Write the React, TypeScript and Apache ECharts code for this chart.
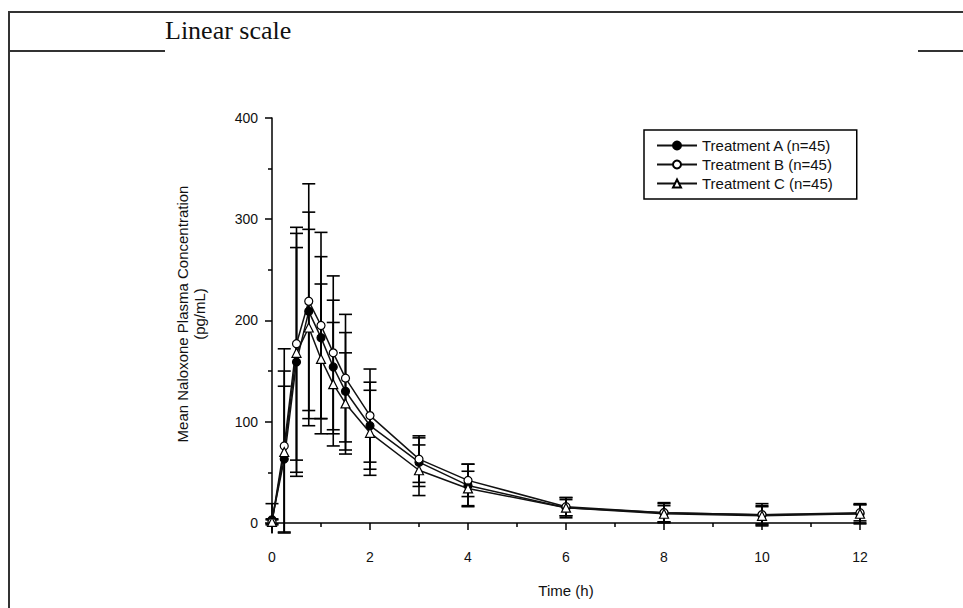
import React, { useEffect, useRef } from "react";
import * as echarts from "echarts";

const TIMES = [0, 0.25, 0.5, 0.75, 1, 1.25, 1.5, 2, 3, 4, 6, 8, 10, 12];
const SERIES_NAMES = ["Treatment A (n=45)", "Treatment B (n=45)", "Treatment C (n=45)"];
const A_MEAN = [3, 63, 159, 209, 183, 154, 130, 96, 60, 37, 15, 10, 8, 9];
const A_SD = [16, 72, 113, 98, 80, 66, 58, 43, 24, 21, 10, 9, 11, 10];
const B_MEAN = [1, 76, 177, 219, 195, 168, 143, 106, 63, 42, 16, 10, 8, 10];
const B_SD = [3, 96, 115, 116, 92, 76, 63, 46, 23, 16, 9, 10, 9, 8];
const C_MEAN = [1, 70, 168, 193, 162, 137, 118, 89, 52, 34, 15, 9, 7, 9];
const C_SD = [2, 80, 118, 97, 74, 61, 50, 42, 25, 17, 8, 8, 9, 9];
const Y_LABEL_VALUES = [0, 100, 200, 300, 400];
const Y_MINOR_VALUES = [50, 150, 250, 350];
const Y_MIN = -10;
const Y_MAX = 400;
const TITLE = "Linear scale";
const Y_TITLE = "Mean Naloxone Plasma Concentration\n(pg/mL)";
const X_TITLE = "Time (h)";

const SANS = "'Liberation Sans', Arial, sans-serif";
const SERIF = "'Liberation Serif', 'Times New Roman', serif";
const INK = "#111";

function errorSeries(name: string, means: number[], sds: number[]) {
  return {
    type: "custom",
    name,
    z: 1,
    silent: true,
    clip: false,
    data: TIMES.map((t, i) => [t, means[i], sds[i]]),
    encode: { x: 0, y: 1 },
    renderItem: (params: any, api: any) => {
      const x = api.value(0);
      const m = api.value(1);
      const s = api.value(2);
      const hi = m + s;
      const loRaw = m - s;
      const lo = Math.max(loRaw, Y_MIN);
      const pTop = api.coord([x, hi]);
      const pBot = api.coord([x, lo]);
      const hw = 6.5;
      const st = { stroke: "#000", lineWidth: 1.6 };
      const children: any[] = [
        { type: "line", shape: { x1: pTop[0], y1: pTop[1], x2: pBot[0], y2: pBot[1] }, style: st },
        { type: "line", shape: { x1: pTop[0] - hw, y1: pTop[1], x2: pTop[0] + hw, y2: pTop[1] }, style: st },
      ];
      if (loRaw >= Y_MIN) {
        children.push({
          type: "line",
          shape: { x1: pBot[0] - hw, y1: pBot[1], x2: pBot[0] + hw, y2: pBot[1] },
          style: st,
        });
      }
      return { type: "group", children };
    },
  };
}

function lineSeries(name: string, means: number[], symbol: string, filled: boolean) {
  return {
    type: "line",
    name,
    z: 3,
    clip: false,
    data: TIMES.map((t, i) => [t, means[i]]),
    symbol,
    symbolSize: symbol === "triangle" ? 9 : 8,
    showSymbol: true,
    lineStyle: { color: INK, width: 1.5 },
    itemStyle: {
      color: filled ? "#000" : "#fff",
      borderColor: "#000",
      borderWidth: 1.2,
    },
  };
}

export default function App() {
  const ref = useRef<HTMLDivElement>(null);
  useEffect(() => {
    if (!ref.current) return;
    const chart = echarts.init(ref.current, undefined, { renderer: "svg" });
    const option: any = {
      animation: false,
      backgroundColor: "#fff",
      grid: { left: 272, right: 103, top: 118, bottom: 75, containLabel: false },
      legend: {
        orient: "vertical",
        left: 644,
        top: 130,
        data: SERIES_NAMES,
        padding: [8, 24, 8, 12],
        itemGap: 4,
        itemWidth: 40,
        itemHeight: 10,
        borderColor: "#000",
        borderWidth: 1.5,
        borderRadius: 0,
        textStyle: { color: INK, fontSize: 15, fontFamily: SANS },
      },
      xAxis: {
        type: "value",
        min: 0,
        max: 12,
        interval: 2,
        name: X_TITLE,
        nameLocation: "middle",
        nameGap: 50,
        nameTextStyle: { color: INK, fontSize: 15, fontFamily: SANS },
        axisLine: { show: true, lineStyle: { color: "#000", width: 1.5 } },
        axisTick: { show: true, length: 7, lineStyle: { color: "#000", width: 1.5 } },
        minorTick: { show: true, splitNumber: 2, length: 4, lineStyle: { color: "#000", width: 1.5 } },
        axisLabel: { color: INK, fontSize: 14, fontFamily: SANS, margin: 17 },
        splitLine: { show: false },
        minorSplitLine: { show: false },
      },
      yAxis: [
        {
          type: "value",
          min: Y_MIN,
          max: Y_MAX,
          position: "left",
          axisLine: { show: true, lineStyle: { color: "#000", width: 1.5 } },
          axisTick: {
            show: true,
            length: 7,
            customValues: Y_LABEL_VALUES,
            lineStyle: { color: "#000", width: 1.5 },
          },
          axisLabel: {
            color: INK,
            fontSize: 14,
            fontFamily: SANS,
            margin: 14,
            customValues: Y_LABEL_VALUES,
          },
          splitLine: { show: false },
        },
        {
          type: "value",
          min: Y_MIN,
          max: Y_MAX,
          position: "left",
          axisLine: { show: false },
          axisTick: {
            show: true,
            length: 4,
            customValues: Y_MINOR_VALUES,
            lineStyle: { color: "#000", width: 1.5 },
          },
          axisLabel: { show: false },
          splitLine: { show: false },
        },
      ],
      graphic: [
        { type: "line", shape: { x1: 8, y1: 12, x2: 963, y2: 12 }, style: { stroke: "#333", lineWidth: 2 } },
        { type: "line", shape: { x1: 9, y1: 12, x2: 9, y2: 608 }, style: { stroke: "#333", lineWidth: 2 } },
        { type: "line", shape: { x1: 9, y1: 51, x2: 165, y2: 51 }, style: { stroke: "#333", lineWidth: 2 } },
        { type: "line", shape: { x1: 918, y1: 51, x2: 963, y2: 51 }, style: { stroke: "#333", lineWidth: 2 } },
        {
          type: "text",
          x: 165,
          y: 30,
          style: {
            text: TITLE,
            fill: INK,
            font: `26px ${SERIF}`,
            textAlign: "left",
            textVerticalAlign: "middle",
            verticalAlign: "middle",
          },
        },
        {
          type: "text",
          x: 191,
          y: 314,
          rotation: Math.PI / 2,
          style: {
            text: Y_TITLE,
            fill: INK,
            font: `15px ${SANS}`,
            lineHeight: 17,
            textAlign: "center",
            textVerticalAlign: "middle",
            verticalAlign: "middle",
          },
        },
      ],
      series: [
        errorSeries("A SD", A_MEAN, A_SD),
        errorSeries("B SD", B_MEAN, B_SD),
        errorSeries("C SD", C_MEAN, C_SD),
        lineSeries(SERIES_NAMES[0], A_MEAN, "circle", true),
        lineSeries(SERIES_NAMES[1], B_MEAN, "circle", false),
        lineSeries(SERIES_NAMES[2], C_MEAN, "triangle", false),
      ],
    };
    chart.setOption(option);
    return () => chart.dispose();
  }, []);
  return (
    <div
      ref={ref}
      style={{ position: "fixed", left: 0, top: 0, width: 963, height: 608, background: "#fff" }}
    />
  );
}
